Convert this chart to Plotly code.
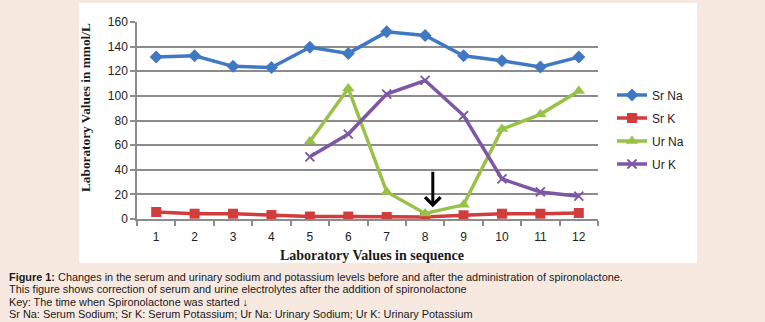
import plotly.graph_objects as go

# ---- data ----
sequence = [1, 2, 3, 4, 5, 6, 7, 8, 9, 10, 11, 12]
sr_na = [131.5, 132.5, 124, 123, 139.5, 134.5, 152, 149, 132.5, 128.5, 123.5, 131.5]
sr_k = [5.7, 4.3, 4.3, 3.2, 2.0, 2.0, 1.6, 1.6, 3.0, 4.3, 4.3, 4.9]
ur_na = [None, None, None, None, 63, 106, 22, 4.5, 11.5, 73, 85, 104]
ur_k = [None, None, None, None, 50.5, 69, 101.5, 112.5, 84, 32.5, 22, 18.5]
series_names = ["Sr Na", "Sr K", "Ur Na", "Ur K"]
y_ticks = [0, 20, 40, 60, 80, 100, 120, 140, 160]
arrow_x = 8.2
arrow_from, arrow_to = 39.5, 9.5

caption_lines = [
    "<b>Figure 1:</b> Changes in the serum and urinary sodium and potassium levels before and after the administration of spironolactone.",
    "This figure shows correction of serum and urine electrolytes after the addition of spironolactone",
    "Key: The time when Spironolactone was started \u2193",
    "Sr Na: Serum Sodium; Sr K: Serum Potassium; Ur Na: Urinary Sodium; Ur K: Urinary Potassium",
]

colors = ["#3f79c4", "#d13c3c", "#98c247", "#7d57a6"]
symbols = ["diamond", "square", "triangle-up", "x-thin"]
sizes = [10, 10, 11, 9]
values = [sr_na, sr_k, ur_na, ur_k]

# ---- geometry (pixels) ----
W, H = 765, 322
L, R, T, B = 137, 598, 22, 219
pw, ph = R - L, B - T
def px(x):
    return (x - L) / pw
def py(y):
    return (B - y) / ph

fig = go.Figure()
for i, (name, vals) in enumerate(zip(series_names, values)):
    marker = dict(symbol=symbols[i], size=sizes[i], color=colors[i])
    if symbols[i] == "x-thin":
        marker["line"] = dict(color=colors[i], width=1.8)
    fig.add_trace(go.Scatter(
        x=sequence, y=vals, name=name, mode="lines+markers",
        line=dict(color=colors[i], width=3.5), marker=marker,
        legendgroup=name, connectgaps=False,
    ))

# white panel
fig.add_shape(type="rect", xref="paper", yref="paper",
              x0=px(79), x1=px(697), y0=py(263), y1=py(3),
              fillcolor="white", line_width=0, layer="below")

# arrow marking start of spironolactone
fig.add_annotation(x=arrow_x, y=arrow_to, ax=arrow_x, ay=arrow_from,
                   xref="x", yref="y", axref="x", ayref="y",
                   showarrow=True, arrowhead=4, arrowsize=1, arrowwidth=3,
                   arrowcolor="black", standoff=0, text="")

# axis titles
serif = "Liberation Serif, Times New Roman, serif"
fig.add_annotation(text="<b>Laboratory Values in mmol/L</b>", xref="paper", yref="paper",
                   x=px(85.5), y=py(107.5), textangle=-90, showarrow=False,
                   xanchor="center", yanchor="middle",
                   font=dict(family=serif, size=13.3, color="#1a1a1a"))
fig.add_annotation(text="<b>Laboratory Values in sequence</b>", xref="paper", yref="paper",
                   x=px(371.5), y=py(255.7), showarrow=False,
                   xanchor="center", yanchor="middle",
                   font=dict(family=serif, size=14, color="#1a1a1a"))

# caption
cap_font = dict(family="Liberation Sans Narrow, Arial Narrow, Liberation Sans, Arial, sans-serif",
                size=10.9, color="#1a1a1a")
for line, yc in zip(caption_lines, [276.7, 289.3, 301.7, 314]):
    fig.add_annotation(text=line, xref="paper", yref="paper", x=px(7), y=py(yc),
                       xanchor="left", yanchor="middle", showarrow=False, font=cap_font)

fig.update_layout(
    width=W, height=H,
    margin=dict(l=L, r=W - R, t=T, b=H - B, pad=0),
    paper_bgcolor="#f7e9e0", plot_bgcolor="white",
    font=dict(family="Liberation Sans, Arial, sans-serif", size=12, color="#222"),
    showlegend=True,
    legend=dict(x=px(612), y=py(80.5), xanchor="left", yanchor="top",
                bgcolor="rgba(0,0,0,0)", tracegroupgap=4,
                font=dict(size=12, color="#222")),
    xaxis=dict(range=[0.5, 12.5], tickmode="linear", tick0=1, dtick=1,
               ticks="outside", ticklen=6, tickcolor="rgba(0,0,0,0)",
               showgrid=False, zeroline=False, showline=True, linecolor="#8c8c8c",
               linewidth=1.5, tickfont=dict(size=12),
               minor=dict(ticks="outside", ticklen=5, tickcolor="#8c8c8c", tickwidth=1.5,
                          tick0=0.5, dtick=1, showgrid=False)),
    yaxis=dict(range=[0, 160], tickvals=y_ticks, ticks="outside", ticklen=5,
               tickcolor="#8c8c8c", tickwidth=1.5, showgrid=True, gridcolor="#8c8c8c",
               gridwidth=1.5, zeroline=False, showline=True, linecolor="#8c8c8c",
               linewidth=1.5, tickfont=dict(size=12)),
)

fig.write_html("out.html")
